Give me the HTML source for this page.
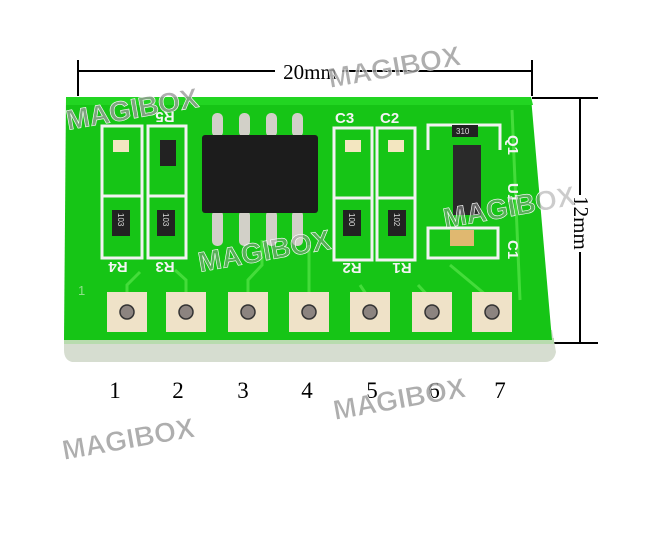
<!DOCTYPE html>
<html><head><meta charset="utf-8"><style>
html,body{margin:0;padding:0;background:#fff;}
svg{display:block;}
</style></head><body>
<svg width="645" height="536" viewBox="0 0 645 536" xmlns="http://www.w3.org/2000/svg">
<rect width="645" height="536" fill="#fff"/>
<!-- top dimension -->
<g stroke="#000" stroke-width="2">
<line x1="78" y1="60" x2="78" y2="96"/>
<line x1="532" y1="60" x2="532" y2="96"/>
<line x1="78" y1="71" x2="275" y2="71"/>
<line x1="342" y1="71" x2="532" y2="71"/>
<line x1="532" y1="98" x2="598" y2="98"/>
<line x1="553" y1="343" x2="598" y2="343"/>
<line x1="580" y1="98" x2="580" y2="195"/>
<line x1="580" y1="252" x2="580" y2="343"/>
</g>
<text x="310" y="79" font-family="Liberation Serif, serif" font-size="21" text-anchor="middle" fill="#000">20mm</text>
<text transform="translate(574,223) rotate(90)" font-family="Liberation Serif, serif" font-size="21" text-anchor="middle" fill="#000">12mm</text>
<!-- board rim -->
<path d="M64 330 L552 330 L556 352 Q554 362 545 362 L72 362 Q64 360 64 350 Z" fill="#d6ddd0"/>
<rect x="64" y="338" width="490" height="6" fill="#b8dcae"/>
<!-- board -->
<path d="M66 97 L531 97 L552 340 L64 340 Z" fill="#16c516"/>
<path d="M66 97 L531 97 L533 105 L66 105 Z" fill="#22d522"/>
<!-- traces -->
<g stroke="#44dc3a" stroke-width="3" fill="none">
<path d="M186 300 L186 280 L175 270"/>
<path d="M248 300 L248 280 L262 265 L262 240"/>
<path d="M309 300 L309 245"/>
<path d="M370 300 L360 285"/>
<path d="M432 300 L418 285"/>
<path d="M492 300 L450 265"/>
<path d="M127 300 L127 285 L140 272"/>
<path d="M512 110 L520 300"/>
</g>
<!-- silkscreen boxes -->
<g stroke="#f2f2f2" stroke-width="3" fill="none">
<rect x="102" y="126" width="40" height="70"/>
<rect x="148" y="126" width="38" height="70"/>
<rect x="102" y="196" width="40" height="62"/>
<rect x="148" y="196" width="38" height="62"/>
<rect x="334" y="128" width="38" height="70"/>
<rect x="377" y="128" width="38" height="70"/>
<rect x="334" y="198" width="38" height="62"/>
<rect x="377" y="198" width="38" height="62"/>
<rect x="428" y="228" width="70" height="30"/>
<path d="M428 150 L428 125 L500 125 L500 150"/>
<line x1="214" y1="160" x2="214" y2="210"/>
</g>
<!-- silk labels -->
<g font-family="Liberation Sans, sans-serif" font-weight="bold" font-size="15" fill="#f4f4f4">
<text x="335" y="123">C3</text>
<text x="380" y="123">C2</text>
<text transform="translate(118,262) rotate(180)" text-anchor="middle">R4</text>
<text transform="translate(165,262) rotate(180)" text-anchor="middle">R3</text>
<text transform="translate(352,263) rotate(180)" text-anchor="middle">R2</text>
<text transform="translate(402,263) rotate(180)" text-anchor="middle">R1</text>
<text transform="translate(165,112) rotate(180)" text-anchor="middle">R5</text>
<text transform="translate(508,135) rotate(90)">Q1</text>
<text transform="translate(508,183) rotate(90)">U1</text>
<text transform="translate(508,240) rotate(90)">C1</text>
</g>
<text x="78" y="295" font-family="Liberation Sans, sans-serif" font-size="13" fill="#8fe08a">1</text>
<!-- LEDs / caps -->
<rect x="113" y="140" width="16" height="12" fill="#f3e6c0"/>
<rect x="345" y="140" width="16" height="12" fill="#f3e6c0"/>
<rect x="388" y="140" width="16" height="12" fill="#f3e6c0"/>
<rect x="450" y="230" width="24" height="16" fill="#e0b870"/>
<!-- resistors -->
<g fill="#222"><rect x="112" y="210" width="18" height="26"/><rect x="157" y="210" width="18" height="26"/><rect x="160" y="140" width="16" height="26"/><rect x="343" y="210" width="18" height="26"/><rect x="388" y="210" width="18" height="26"/><rect x="452" y="125" width="26" height="12"/></g>
<g fill="#ddd" font-family="Liberation Sans, sans-serif" font-size="8">
<text transform="translate(118,213) rotate(90)">103</text>
<text transform="translate(163,213) rotate(90)">103</text>
<text transform="translate(349,213) rotate(90)">100</text>
<text transform="translate(394,213) rotate(90)">102</text>
<text x="456" y="134">310</text>
</g>
<!-- transistor/u1 -->
<rect x="453" y="145" width="28" height="70" fill="#2a2a2a"/>
<!-- IC pins -->
<g fill="#d2d0c8">
<rect x="212" y="113" width="11" height="24" rx="5"/>
<rect x="239" y="113" width="11" height="24" rx="5"/>
<rect x="266" y="113" width="11" height="24" rx="5"/>
<rect x="292" y="113" width="11" height="24" rx="5"/>
<rect x="212" y="210" width="11" height="36" rx="5"/>
<rect x="239" y="210" width="11" height="36" rx="5"/>
<rect x="266" y="210" width="11" height="36" rx="5"/>
<rect x="292" y="210" width="11" height="36" rx="5"/>
</g>
<rect x="202" y="135" width="116" height="78" rx="3" fill="#1c1c1c"/>
<!-- pads -->
<g>
<rect x="107" y="292" width="40" height="40" fill="#efe2c8"/>
<rect x="166" y="292" width="40" height="40" fill="#efe2c8"/>
<rect x="228" y="292" width="40" height="40" fill="#efe2c8"/>
<rect x="289" y="292" width="40" height="40" fill="#efe2c8"/>
<rect x="350" y="292" width="40" height="40" fill="#efe2c8"/>
<rect x="412" y="292" width="40" height="40" fill="#efe2c8"/>
<rect x="472" y="292" width="40" height="40" fill="#efe2c8"/>
</g>
<g fill="#8c8480" stroke="#333" stroke-width="1.5">
<circle cx="127" cy="312" r="7"/><circle cx="186" cy="312" r="7"/><circle cx="248" cy="312" r="7"/><circle cx="309" cy="312" r="7"/><circle cx="370" cy="312" r="7"/><circle cx="432" cy="312" r="7"/><circle cx="492" cy="312" r="7"/>
</g>
<!-- numbers -->
<g font-family="Liberation Serif, serif" font-size="23" fill="#000" text-anchor="middle">
<text x="115" y="398">1</text><text x="178" y="398">2</text><text x="243" y="398">3</text><text x="307" y="398">4</text><text x="372" y="398">5</text><text x="434" y="398">6</text><text x="500" y="398">7</text>
</g>
<!-- watermarks -->
<g font-family="Liberation Sans, sans-serif" font-weight="bold" font-size="28" fill="#9a9a9a" fill-opacity="0.8" stroke="#fff" stroke-width="0.6">
<text transform="translate(68,130) rotate(-10)">MAGIBOX</text>
<text transform="translate(330,88) rotate(-10)">MAGIBOX</text>
<text transform="translate(200,272) rotate(-10)" fill-opacity="0.5">MAGIBOX</text>
<text transform="translate(445,228) rotate(-10)" fill-opacity="0.5">MAGIBOX</text>
<text transform="translate(335,420) rotate(-10)">MAGIBOX</text>
<text transform="translate(64,460) rotate(-10)">MAGIBOX</text>
</g>
</svg>
</body></html>
